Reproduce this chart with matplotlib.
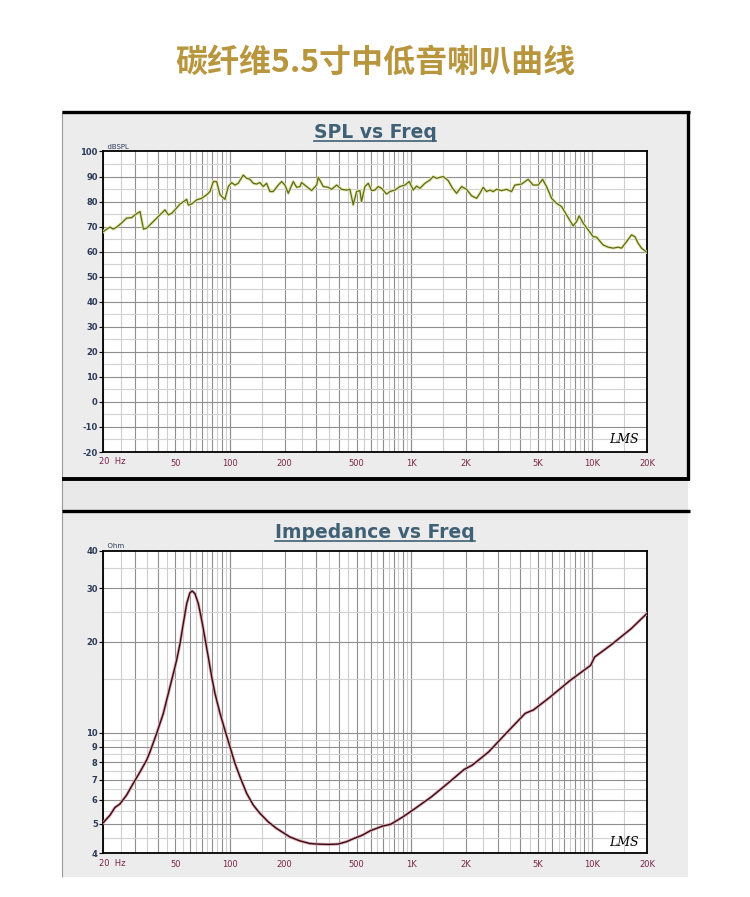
import numpy as np
import matplotlib
matplotlib.use('Agg')
import matplotlib.pyplot as plt
from matplotlib.patches import Rectangle
from matplotlib.lines import Line2D
import matplotlib.transforms as mtransforms

# ---- data ----
spl_freq = [20, 21.3, 21.8, 22.7, 23.7, 25.2, 26.9, 28.7, 29.9, 31.2, 31.9, 33.3, 34.7, 37.0,
            39.4, 41.1, 43.8, 45.7, 47.7, 49.7, 53.0, 57.7, 58.9, 61.4, 65.5, 69.8, 74.3, 77.6,
            80.9, 84.4, 88.1, 93.8, 97.9, 102, 106.5, 111, 118.4, 123.5, 128.9, 134.5, 140.3,
            146.3, 152.6, 159.2, 166.1, 173.3, 184.7, 192.6, 201, 209.7, 223.5, 233.2, 243.2,
            248.4, 264.7, 282.2, 300.6, 307, 327.2, 348.6, 363.7, 387.7, 412.9, 440, 459, 478.7,
            499.5, 521, 532, 555.3, 579.3, 604.3, 630.4, 657.6, 686, 731, 763,
            813, 866, 923, 975, 1026, 1071, 1117, 1190, 1268, 1322, 1380, 1501, 1600, 1691,
            1780, 1897, 2020, 2153, 2295, 2393, 2495, 2605, 2717, 2832, 2958, 3152, 3358, 3578,
            3732, 4064, 4418, 4708, 5016, 5305, 5582, 5950, 6340, 6756, 7198, 7828, 8173, 8447,
            8887, 9466, 10090, 10530, 11455, 12205, 13004, 13855, 14468, 15418, 16427, 17130,
            17863, 18654, 20000]
spl_db = [68, 69.4, 69.8, 69, 69.8, 71.4, 73.4, 73.6, 74.7, 75.6, 76, 69, 69.4, 71.4,
          73.4, 74.7, 76.7, 74.7, 75.3, 76.7, 79, 80.9, 78.6, 79, 80.7, 81.3, 82.7, 84,
          88, 88, 82.7, 80.9, 86, 87.6, 86.6, 87.3, 90.6, 89.3, 88.9, 87.3, 87,
          87.6, 86, 87.3, 84, 84, 86.6, 88, 86.6, 83.3, 88, 85.7, 86,
          87.6, 86, 84.4, 86.6, 89.7, 86, 85.7, 84.9, 86.6, 84.9, 84.6, 84.9, 78.7,
          84, 84.4, 80, 86, 87.3, 84.4, 84.6, 86, 85.3, 83, 84,
          84.6, 86, 86.6, 88, 84.6, 86.2, 85.3, 87.3, 88.6, 90, 89.3, 90, 88.4, 85.3,
          83.3, 86, 84.9, 82.3, 81.3, 83.3, 85.7, 84, 84.6, 84, 84.9, 84.4, 84.9, 84,
          86.6, 87, 88.9, 86.6, 86.6, 88.9, 86, 81.3, 79.3, 78, 74.7, 70.3, 72, 74.3,
          71.4, 68.7, 66, 65.8, 62.7, 61.8, 61.4, 61.8, 61.4, 64, 66.7, 66,
          63.4, 61.4, 59.7]

imp_freq = [20, 21.8, 23.2, 24.7, 26.9, 29.6, 31.9, 34.7, 36.2, 39.4, 42.9, 45.7, 48.7, 50.8,
            53.0, 55.3, 57.7, 60.1, 61.9, 64.1, 66.9, 69.8, 72.8, 75.9, 79.3, 82.6, 88.1,
            93.8, 100, 106.5, 113.5, 123.6, 134.5, 146.3, 162.6, 180.9, 214, 242, 275, 303.5,
            350, 393.4, 440, 484, 536.9, 595.4, 695.6, 771.6, 901.5, 1053, 1295, 1592, 1960,
            2173, 2675, 3466, 4263, 4728, 5817, 7540, 9770, 10290, 12655, 16395, 20000]
imp_ohm = [5.05, 5.35, 5.67, 5.82, 6.23, 6.89, 7.43, 8.13, 8.65, 9.96, 11.6, 13.5, 15.7, 17.4,
           19.7, 23.0, 26.7, 29.0, 29.4, 28.8, 26.7, 23.6, 20.5, 17.8, 15.3, 13.5, 11.6,
           10.2, 8.99, 7.93, 7.16, 6.31, 5.77, 5.42, 5.08, 4.83, 4.53, 4.40, 4.31, 4.29,
           4.28, 4.29, 4.37, 4.48, 4.59, 4.75, 4.92, 4.99, 5.28, 5.63, 6.15, 6.81, 7.57,
           7.82, 8.65, 10.2, 11.6, 11.9, 13.1, 14.9, 16.7, 17.8, 19.5, 22.1, 24.8]

freq_ticks = [20, 50, 100, 200, 500, 1000, 2000, 5000, 10000, 20000]
freq_labels = ['', '50', '100', '200', '500', '1K', '2K', '5K', '10K', '20K']
spl_ticks = list(range(-20, 101, 10))
imp_ticks = [4, 5, 6, 7, 8, 9, 10, 20, 30, 40]

W, H = 750, 897
fig = plt.figure(figsize=(7.5, 8.97), dpi=100)
fig.patch.set_facecolor('white')


def fx(x):
    return x / W


def fy(y):
    return 1 - y / H


def box(x0, y0, x1, y1, **kw):
    fig.add_artist(Rectangle((fx(x0), fy(y1)), fx(x1) - fx(x0), fy(y0) - fy(y1),
                             transform=fig.transFigure, zorder=-5, **kw))


def seg(x0, y0, x1, y1, lw, color):
    fig.add_artist(Line2D([fx(x0), fx(x1)], [fy(y0), fy(y1)], transform=fig.transFigure,
                          lw=lw, color=color, zorder=-4, solid_capstyle='butt'))


GRAY = '#ececec'
# panels
box(62, 111, 688, 480, facecolor=GRAY, edgecolor='none')
box(62, 480, 688, 511, facecolor='#e9e9e9', edgecolor='none')
box(62, 511, 688, 877, facecolor=GRAY, edgecolor='none')
seg(62, 111, 62, 877, 0.8, '#9a9a9a')
seg(62, 112, 690, 112, 2.4, 'black')
seg(688, 111, 688, 480, 2.4, 'black')
seg(62, 479, 690, 479, 2.8, 'black')
seg(62, 511.5, 690, 511.5, 2.4, 'black')

# main title
fig.text(0.5, fy(63), '碳纤维5.5寸中低音喇叭曲线', ha='center', va='center',
         fontsize=23, fontweight='bold', color='#b8963e',
         family=['Noto Sans CJK SC', 'DejaVu Sans'])

# grid positions
xg_dark, xg_light = [], []
for d in [10, 100, 1000, 10000]:
    for m in np.arange(1, 10.01, 0.5):
        f = m * d
        if 20 <= f <= 20000:
            (xg_dark if m == int(m) else xg_light).append(f)

TICK_Y = '#2b3b5a'
TICK_X = '#7a2448'
TITLE_C = '#3f6075'


def setup(ax):
    ax.set_facecolor('white')
    ax.set_xscale('log')
    ax.set_xlim(20, 20000)
    for f in xg_light:
        ax.axvline(f, color='#cfcfcf', lw=0.8, zorder=1)
    for f in xg_dark:
        ax.axvline(f, color='#8e8e8e', lw=0.8, zorder=1)
    ax.set_xticks(freq_ticks)
    ax.set_xticklabels(freq_labels)
    ax.xaxis.set_minor_locator(matplotlib.ticker.NullLocator())
    ax.tick_params(axis='x', length=0, pad=5, labelsize=6, labelcolor=TICK_X)
    ax.tick_params(axis='y', length=3, width=0.8, pad=1, labelsize=6, labelcolor=TICK_Y)
    for s in ax.spines.values():
        s.set_linewidth(1.3)
        s.set_color('black')
    off = mtransforms.offset_copy(ax.get_xaxis_transform(), fig=fig, x=-4, y=0, units='dots')
    ax.text(20, -0.018, '20  Hz', transform=off, ha='left', va='top', fontsize=6, color=TICK_X)


# ---- SPL panel ----
ax1 = fig.add_axes([fx(103.3), fy(452), (647 - 103.3) / W, (452 - 151.5) / H])
setup(ax1)
ax1.set_ylim(-20, 100)
for v in range(-15, 100, 10):
    ax1.axhline(v, color='#d2d2d2', lw=0.8, zorder=1)
for v in range(-10, 100, 10):
    ax1.axhline(v, color='#8e8e8e', lw=0.8, zorder=1)
ax1.set_yticks(spl_ticks)
ax1.set_yticklabels([str(v) for v in spl_ticks])
ax1.yaxis.set_minor_locator(matplotlib.ticker.NullLocator())
ax1.plot(spl_freq, spl_db, color='#e2e6a6', lw=2.2, zorder=3, solid_joinstyle='round')
ax1.plot(spl_freq, spl_db, color='#5f6a1c', lw=0.9, zorder=4, solid_joinstyle='round')
ax1.text(0.0, 1.005, '  dBSPL', transform=ax1.transAxes, ha='left', va='bottom',
         fontsize=5, color=TICK_Y)
ax1.text(0.985, 0.02, 'LMS', transform=ax1.transAxes, ha='right', va='bottom',
         fontsize=9, style='italic', family='DejaVu Serif', color='black')

# ---- Impedance panel ----
ax2 = fig.add_axes([fx(103.3), fy(853.3), (647 - 103.3) / W, (853.3 - 550.5) / H])
setup(ax2)
ax2.set_yscale('log')
ax2.set_ylim(4, 40)
for v in [4.5, 5.5, 6.5, 7.5, 8.5, 9.5, 15, 25, 35]:
    ax2.axhline(v, color='#d2d2d2', lw=0.8, zorder=1)
for v in [5, 6, 7, 8, 9, 10, 20, 30]:
    ax2.axhline(v, color='#8e8e8e', lw=0.8, zorder=1)
ax2.set_yticks(imp_ticks)
ax2.set_yticklabels([str(v) for v in imp_ticks])
ax2.yaxis.set_minor_locator(matplotlib.ticker.NullLocator())
ax2.plot(imp_freq, imp_ohm, color='#dcaab0', lw=2.2, zorder=3, solid_joinstyle='round')
ax2.plot(imp_freq, imp_ohm, color='#3a0c18', lw=1.0, zorder=4, solid_joinstyle='round')
ax2.text(0.0, 1.005, '  Ohm', transform=ax2.transAxes, ha='left', va='bottom',
         fontsize=5, color=TICK_Y)
ax2.text(0.985, 0.015, 'LMS', transform=ax2.transAxes, ha='right', va='bottom',
         fontsize=9, style='italic', family='DejaVu Serif', color='black')

for lab in ax1.get_yticklabels() + ax2.get_yticklabels():
    lab.set_fontweight('bold')

# panel titles with underline
t1 = fig.text(0.5, fy(133), 'SPL vs Freq', ha='center', va='center', fontsize=13.5,
              fontweight='bold', color=TITLE_C)
t2 = fig.text(0.5, fy(533), 'Impedance vs Freq', ha='center', va='center', fontsize=13.5,
              fontweight='bold', color=TITLE_C)
fig.canvas.draw()
r = fig.canvas.get_renderer()
for t in (t1, t2):
    bb = t.get_window_extent(r)
    y = bb.y0 + 1
    fig.add_artist(Line2D([bb.x0 / W, bb.x1 / W], [y / H, y / H], transform=fig.transFigure,
                          lw=1.2, color=TITLE_C))

fig.savefig('out.png', dpi=100, facecolor='white')
